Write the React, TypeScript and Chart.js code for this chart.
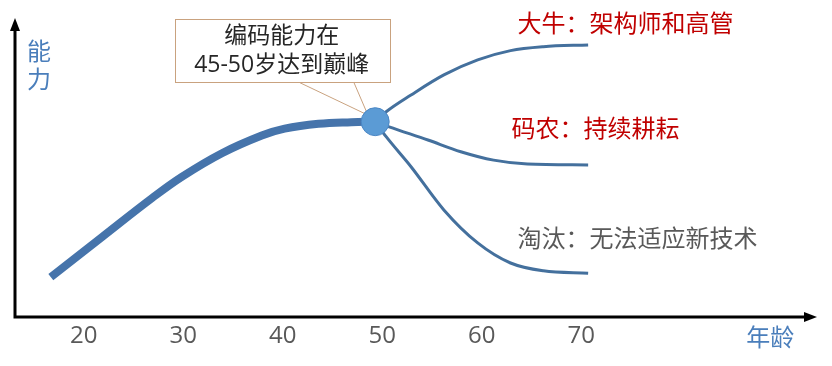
import React, { useEffect, useRef } from "react";
import { Chart, registerables } from "chart.js";

Chart.register(...registerables);

// ---- data (age, ability) ----
const xTicks = [20, 30, 40, 50, 60, 70];

const mainAges = [16.7, 21.9, 26.9, 29.9, 33.9, 37.9, 40.2, 43.6, 46.9, 49.3];
const mainValues = [13.3, 26.8, 39.7, 46.8, 54.6, 60.5, 62.8, 64.4, 64.95, 65.1];

const peakAges = [49.3];
const peakValues = [65.1];

const topAges = [49.3, 50.4, 52.9, 56.2, 59.6, 62.9, 66.2, 70.7];
const topValues = [65.1, 68.4, 74.0, 80.7, 85.7, 88.8, 90.1, 90.7];

const midAges = [49.3, 50.7, 54.6, 57.9, 61.2, 64.6, 70.7];
const midValues = [65.1, 63.4, 59.0, 55.1, 52.3, 51.0, 50.7];

const lowAges = [49.3, 50.4, 52.9, 56.2, 59.6, 62.9, 66.2, 70.7];
const lowValues = [65.1, 60.1, 50.1, 35.7, 24.7, 18.0, 15.4, 14.6];

const branchLabels = ["大牛：架构师和高管", "码农：持续耕耘", "淘汰：无法适应新技术"];
const calloutLines = ["编码能力在", "45-50岁达到巅峰"];
const yAxisTitle = ["能", "力"];
const xAxisTitle = "年龄";

const FONT = "'Open Sans', 'Noto Sans CJK SC', sans-serif";
const CJK = "'Noto Sans CJK SC', 'Noto Sans', sans-serif";

const toPts = (xs: number[], ys: number[]) => xs.map((x, i) => ({ x, y: ys[i] }));

const decor = {
  id: "decor",
  beforeDatasetsDraw(chart: any) {
    const { ctx, chartArea, scales } = chart;
    const { left, right, top, bottom } = chartArea;
    const x = scales.x;
    const y = scales.y;
    ctx.save();
    // axes with arrows
    ctx.strokeStyle = "#000";
    ctx.fillStyle = "#000";
    ctx.lineWidth = 3;
    ctx.lineJoin = "miter";
    ctx.beginPath();
    ctx.moveTo(left, top + 12);
    ctx.lineTo(left, bottom);
    ctx.lineTo(right - 10, bottom);
    ctx.stroke();
    ctx.beginPath();
    ctx.moveTo(left, top + 1);
    ctx.lineTo(left - 5, top + 14);
    ctx.lineTo(left + 5, top + 14);
    ctx.closePath();
    ctx.fill();
    ctx.beginPath();
    ctx.moveTo(right, bottom);
    ctx.lineTo(right - 13, bottom - 5);
    ctx.lineTo(right - 13, bottom + 5);
    ctx.closePath();
    ctx.fill();

    // callout box
    const bx1 = x.getPixelForValue(29.13);
    const bx2 = x.getPixelForValue(50.73);
    const by1 = y.getPixelForValue(99.2);
    const by2 = y.getPixelForValue(78.1);
    const p1 = x.getPixelForValue(41.73);
    const p2 = x.getPixelForValue(47.17);
    const tx = x.getPixelForValue(48.57);
    const ty = y.getPixelForValue(67.3);
    ctx.lineWidth = 1;
    ctx.strokeStyle = "#C9A27F";
    ctx.fillStyle = "#FFFFFF";
    ctx.beginPath();
    ctx.moveTo(p1, by2);
    ctx.lineTo(tx, ty);
    ctx.lineTo(p2, by2);
    ctx.closePath();
    ctx.fill();
    ctx.beginPath();
    ctx.moveTo(p1, by2);
    ctx.lineTo(tx, ty);
    ctx.lineTo(p2, by2);
    ctx.stroke();
    ctx.fillRect(bx1, by1, bx2 - bx1, by2 - by1);
    ctx.strokeRect(Math.round(bx1) + 0.5, Math.round(by1) + 0.5, Math.round(bx2 - bx1), Math.round(by2 - by1));

    ctx.fillStyle = "#262626";
    ctx.font = `23px ${FONT}`;
    ctx.textAlign = "center";
    ctx.textBaseline = "middle";
    const cx = x.getPixelForValue(39.9);
    ctx.fillText(calloutLines[0], cx, y.getPixelForValue(93.4));
    ctx.fillText(calloutLines[1], cx, y.getPixelForValue(84.0));
    ctx.restore();
  },
  afterDraw(chart: any) {
    const { ctx, scales } = chart;
    const x = scales.x;
    const y = scales.y;
    ctx.save();
    ctx.textBaseline = "middle";
    ctx.font = `24px ${CJK}`;
    ctx.textAlign = "left";
    ctx.fillStyle = "#C00000";
    ctx.fillText(branchLabels[0], x.getPixelForValue(63.6), y.getPixelForValue(98));
    ctx.fillText(branchLabels[1], x.getPixelForValue(63.0), y.getPixelForValue(63));
    ctx.fillStyle = "#595959";
    ctx.fillText(branchLabels[2], x.getPixelForValue(63.6), y.getPixelForValue(26.3));

    ctx.fillStyle = "#4A7EBB";
    ctx.textAlign = "center";
    ctx.fillText(yAxisTitle[0], x.getPixelForValue(15.5), y.getPixelForValue(88.8));
    ctx.fillText(yAxisTitle[1], x.getPixelForValue(15.5), y.getPixelForValue(79.3));
    ctx.fillText(xAxisTitle, x.getPixelForValue(89.0), y.getPixelForValue(-6.6));
    ctx.restore();
  },
};

export default function App() {
  const ref = useRef<HTMLCanvasElement>(null);
  useEffect(() => {
    const branchColor = "#44709D";
    const branch = (xs: number[], ys: number[]) => ({
      data: toPts(xs, ys),
      borderColor: branchColor,
      borderWidth: 3,
      pointRadius: 0,
      cubicInterpolationMode: "monotone",
      fill: false,
      clip: false,
    });
    const chart = new Chart(ref.current as HTMLCanvasElement, {
      type: "line",
      data: {
        datasets: [
          {
            data: toPts(peakAges, peakValues),
            showLine: false,
            pointRadius: 14,
            pointBackgroundColor: "#5B9BD5",
            pointBorderColor: "#4A86C4",
            pointBorderWidth: 1,
            clip: false,
          } as any,
          {
            data: toPts(mainAges, mainValues),
            borderColor: "#4674AB",
            borderWidth: 8,
            pointRadius: 0,
            tension: 0.4,
            fill: false,
            clip: false,
          },
          branch(topAges, topValues),
          branch(midAges, midValues),
          branch(lowAges, lowValues),
        ] as any,
      },
      options: {
        animation: false,
        responsive: false,
        devicePixelRatio: 1,
        layout: { padding: { left: 12, right: 14, top: 17, bottom: 0 } },
        plugins: { legend: { display: false }, tooltip: { enabled: false } },
        scales: {
          x: {
            type: "linear",
            min: 13.1,
            max: 93.7,
            grid: { display: false, drawTicks: false },
            border: { display: false },
            afterBuildTicks: (s: any) => {
              s.ticks = xTicks.map((v) => ({ value: v }));
            },
            afterFit: (s: any) => {
              s.height = 49;
            },
            ticks: {
              autoSkip: false,
              maxRotation: 0,
              padding: 5,
              color: "#595959",
              font: { family: FONT, size: 24 },
            },
          },
          y: { type: "linear", display: false, min: 0, max: 100 },
        },
      } as any,
      plugins: [decor],
    });
    return () => chart.destroy();
  }, []);
  return (
    <div style={{ position: "fixed", left: 0, top: 0, width: 832, height: 366, background: "#fff" }}>
      <canvas ref={ref} width={832} height={366} style={{ display: "block" }} />
    </div>
  );
}
